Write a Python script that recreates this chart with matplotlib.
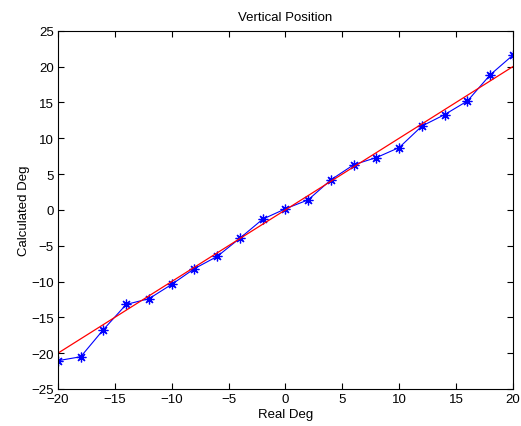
import numpy as np
import matplotlib
matplotlib.use('Agg')
import matplotlib.pyplot as plt

plt.rcParams['font.family'] = ['Liberation Sans', 'DejaVu Sans']

# Data
real_deg = [-20, -18, -16, -14, -12, -10, -8, -6, -4, -2, 0,
            2, 4, 6, 8, 10, 12, 14, 16, 18, 20]
calc_deg = [-21.05, -20.5, -16.7, -13.2, -12.4, -10.4, -8.2, -6.5, -3.95, -1.3, 0.15,
            1.4, 4.2, 6.3, 7.3, 8.7, 11.7, 13.3, 15.2, 18.85, 21.6]
ideal_x = [-20, 20]
ideal_y = [-20, 20]

xticks = [-20, -15, -10, -5, 0, 5, 10, 15, 20]
yticks = [-25, -20, -15, -10, -5, 0, 5, 10, 15, 20, 25]

fig = plt.figure(figsize=(5.21, 4.27), dpi=100)
ax = fig.add_axes([0.1113, 0.0867, 0.8733, 0.839])

ax.plot(real_deg, calc_deg, color='blue', linewidth=0.8,
        marker=(8, 2, 0), markersize=7, markeredgewidth=0.9)
ax.plot(ideal_x, ideal_y, color='red', linewidth=0.9)

ax.set_xlim(-20, 20)
ax.set_ylim(-25, 25)
ax.set_xticks(xticks)
ax.set_yticks(yticks)
ax.tick_params(axis='both', direction='in', length=4, width=0.8, labelsize=9.5,
               top=True, right=True, pad=3)
for s in ax.spines.values():
    s.set_linewidth(0.8)

ax.set_title('Vertical Position', fontsize=9.5, pad=8)
ax.set_xlabel('Real Deg', fontsize=9.5, labelpad=2)
ax.set_ylabel('Calculated Deg', fontsize=9.5, labelpad=1)

fig.savefig('out.png', dpi=100)
